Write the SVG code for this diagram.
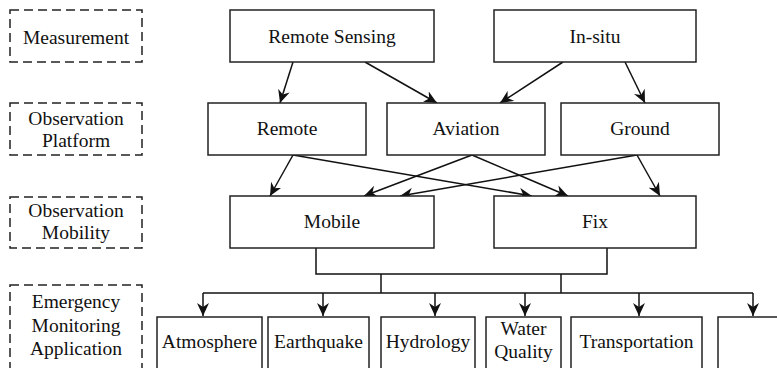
<svg xmlns="http://www.w3.org/2000/svg" width="777" height="368" viewBox="0 0 777 368">
<style>
  .box { fill: #fff; stroke: #222; stroke-width: 1.5; }
  .dash { fill: #fff; stroke: #222; stroke-width: 1.5; stroke-dasharray: 9 5; }
  .t { font-family: "Liberation Serif", "Times New Roman", "DejaVu Serif", serif; font-size: 19.5px; fill: #111; text-anchor: middle; }
  .c { fill: none; stroke: #111; stroke-width: 1.5; }
  .a { fill: none; stroke: #111; stroke-width: 1.5; marker-end: url(#arr); }
</style>
<defs>
  <marker id="arr" viewBox="0 0 13 12" refX="13" refY="6" markerWidth="13" markerHeight="12" markerUnits="userSpaceOnUse" orient="auto">
    <path d="M0,0 L13,6 L0,12 L4,6 z" fill="#111"/>
  </marker>
</defs>
<rect width="777" height="368" fill="#fff"/>

<g id="label-measurement">
  <rect class="dash" x="10" y="10" width="132" height="52"/>
  <text class="t" x="76" y="44">Measurement</text>
</g>
<g id="label-platform">
  <rect class="dash" x="10" y="103" width="132" height="52"/>
  <text class="t" x="76" y="125">Observation</text>
  <text class="t" x="76" y="147">Platform</text>
</g>
<g id="label-mobility">
  <rect class="dash" x="10" y="197" width="132" height="51"/>
  <text class="t" x="76" y="217">Observation</text>
  <text class="t" x="76" y="239">Mobility</text>
</g>
<g id="label-application">
  <rect class="dash" x="10" y="285" width="132" height="100"/>
  <text class="t" x="76" y="308">Emergency</text>
  <text class="t" x="76" y="332">Monitoring</text>
  <text class="t" x="76" y="355">Application</text>
</g>

<g id="connectors">
  <line class="a" x1="293" y1="62" x2="280" y2="103"/>
  <line class="a" x1="365" y1="62" x2="437" y2="103"/>
  <line class="a" x1="563" y1="62" x2="500" y2="103"/>
  <line class="a" x1="625" y1="62" x2="645" y2="103"/>
  <line class="a" x1="293" y1="155" x2="270" y2="196"/>
  <line class="a" x1="293" y1="155" x2="532" y2="196"/>
  <line class="a" x1="472" y1="155" x2="364" y2="196"/>
  <line class="a" x1="472" y1="155" x2="568" y2="196"/>
  <line class="a" x1="637" y1="155" x2="400" y2="196"/>
  <line class="a" x1="637" y1="155" x2="660" y2="196"/>
  <polyline class="c" points="316,248 316,274 607,274 607,248"/>
  <line class="c" x1="381" y1="274" x2="381" y2="293"/>
  <line class="c" x1="561" y1="274" x2="561" y2="293"/>
  <line class="c" x1="203" y1="293" x2="753" y2="293"/>
  <line class="a" x1="203" y1="293" x2="203" y2="316"/>
  <line class="a" x1="323" y1="293" x2="323" y2="316"/>
  <line class="a" x1="435" y1="293" x2="435" y2="316"/>
  <line class="a" x1="525" y1="293" x2="525" y2="316"/>
  <line class="a" x1="639" y1="293" x2="639" y2="316"/>
  <line class="a" x1="753" y1="293" x2="753" y2="316"/>
</g>

<g id="remote-sensing">
  <rect class="box" x="230" y="10" width="204" height="52"/>
  <text class="t" x="332" y="43">Remote Sensing</text>
</g>
<g id="in-situ">
  <rect class="box" x="494" y="10" width="202" height="52"/>
  <text class="t" x="595" y="43">In-situ</text>
</g>
<g id="remote">
  <rect class="box" x="208" y="103" width="158" height="52"/>
  <text class="t" x="287" y="135">Remote</text>
</g>
<g id="aviation">
  <rect class="box" x="387" y="103" width="158" height="52"/>
  <text class="t" x="466" y="135">Aviation</text>
</g>
<g id="ground">
  <rect class="box" x="561" y="103" width="158" height="52"/>
  <text class="t" x="640" y="135">Ground</text>
</g>
<g id="mobile">
  <rect class="box" x="230" y="196" width="204" height="52"/>
  <text class="t" x="332" y="228">Mobile</text>
</g>
<g id="fix">
  <rect class="box" x="494" y="196" width="202" height="52"/>
  <text class="t" x="595" y="228">Fix</text>
</g>
<g id="atmosphere">
  <rect class="box" x="157" y="317" width="105" height="80"/>
  <text class="t" x="209.5" y="348">Atmosphere</text>
</g>
<g id="earthquake">
  <rect class="box" x="268" y="317" width="101" height="80"/>
  <text class="t" x="318.5" y="348">Earthquake</text>
</g>
<g id="hydrology">
  <rect class="box" x="381" y="317" width="94" height="80"/>
  <text class="t" x="428" y="348">Hydrology</text>
</g>
<g id="water-quality">
  <rect class="box" x="486" y="317" width="75" height="80"/>
  <text class="t" x="523.5" y="335">Water</text>
  <text class="t" x="523.5" y="358">Quality</text>
</g>
<g id="transportation">
  <rect class="box" x="571" y="317" width="131" height="80"/>
  <text class="t" x="636.5" y="348">Transportation</text>
</g>
<g id="blank-box">
  <rect class="box" x="718" y="317" width="100" height="80"/>
</g>
</svg>
